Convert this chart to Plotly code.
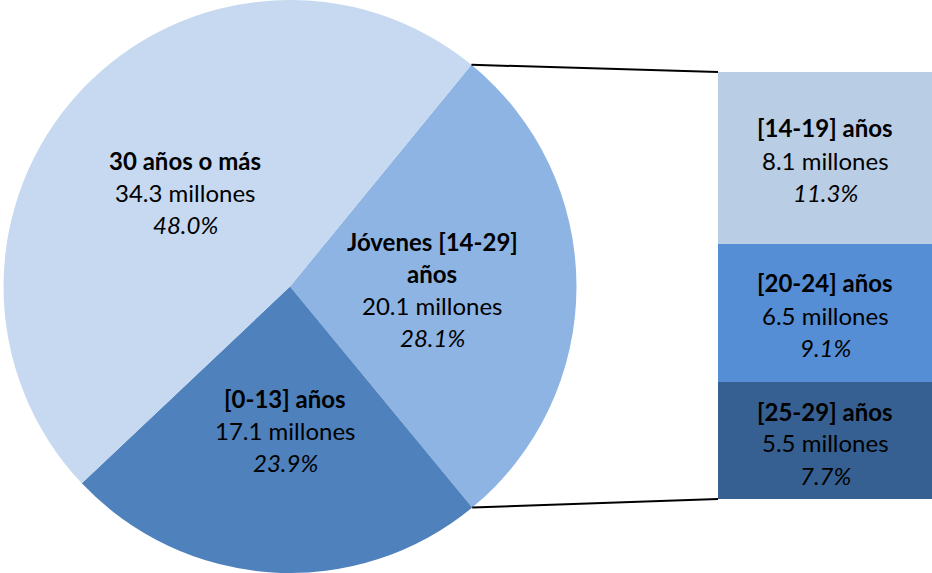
import math
import plotly.graph_objects as go

W, H = 932, 573

# Pie: main age groups (millions of people)
pie_labels = ["Jóvenes [14-29] años", "[0-13] años", "30 años o más"]
pie_values = [20.1, 17.1, 34.3]
pie_pcts = ["28.1%", "23.9%", "48.0%"]
pie_colors = ["#8EB4E3", "#4F81BD", "#C6D9F0"]

# Bar: breakdown of the youth group (top to bottom)
bar_labels = ["[14-19] años", "[20-24] años", "[25-29] años"]
bar_values = [8.1, 6.5, 5.5]
bar_pcts = ["11.3%", "9.1%", "7.7%"]
bar_colors = ["#B9CDE5", "#558ED5", "#366092"]

FONT = "Lato"
FS = 24
LINE = 32

# layout geometry (pixels)
pie_cx, pie_cy, pie_r = 290, 286.5, 286.5
bar_x0, bar_x1 = 718, 932
bar_top, bar_bot = 72, 499

total = sum(pie_values)
youth_frac = pie_values[0] / total
rotation = 39.3  # start angle of the youth slice, clockwise from 12 o'clock

fig = go.Figure()
fig.add_trace(go.Pie(
    labels=pie_labels, values=pie_values, sort=False, direction="clockwise",
    rotation=rotation, marker=dict(colors=pie_colors, line=dict(width=0)),
    textinfo="none", hoverinfo="skip", showlegend=False,
    domain=dict(x=[(pie_cx - pie_r) / W, (pie_cx + pie_r) / W], y=[0, 1]),
))

# stacked bar, drawn bottom-up
for lab, val, col in reversed(list(zip(bar_labels, bar_values, bar_colors))):
    fig.add_trace(go.Bar(
        x=[0], y=[val], width=1, marker=dict(color=col, line=dict(width=0)),
        hoverinfo="skip", showlegend=False, name=lab,
    ))

bar_total = sum(bar_values)
fig.update_layout(
    width=W, height=H, margin=dict(l=0, r=0, t=0, b=0),
    paper_bgcolor="white", plot_bgcolor="white", barmode="stack", bargap=0,
    xaxis=dict(domain=[bar_x0 / W, bar_x1 / W], range=[-0.5, 0.5], visible=False),
    yaxis=dict(domain=[(H - bar_bot) / H, (H - bar_top) / H], range=[0, bar_total], visible=False),
)

# connector lines from the youth slice edges to the bar corners
a0 = math.radians(rotation)
a1 = math.radians(rotation + 360 * youth_frac)
p0 = (pie_cx + pie_r * math.sin(a0), pie_cy - pie_r * math.cos(a0))
p1 = (pie_cx + pie_r * math.sin(a1), pie_cy - pie_r * math.cos(a1))
for (px, py), by in [(p0, bar_top), (p1, bar_bot)]:
    fig.add_shape(type="line", xref="paper", yref="paper",
                  x0=px / W, y0=1 - py / H, x1=bar_x0 / W, y1=1 - by / H,
                  line=dict(color="black", width=2))


def label_block(lines, cx, y_first):
    for i, (txt, style) in enumerate(lines):
        if style == "b":
            t = f"<b>{txt}</b>"
        elif style == "i":
            t = f"<i>{txt}</i>"
        else:
            t = txt
        fig.add_annotation(x=cx / W, y=1 - (y_first + i * LINE) / H, xref="paper", yref="paper",
                           text=t, showarrow=False, xanchor="center", yanchor="middle",
                           font=dict(family=FONT, size=FS, color="black"))


# pie labels
label_block([(pie_labels[2], "b"), (f"{pie_values[2]} millones", ""), (pie_pcts[2], "i")], 185, 160)
label_block([("Jóvenes [14-29]", "b"), ("años", "b"), (f"{pie_values[0]} millones", ""), (pie_pcts[0], "i")], 432, 241)
label_block([(pie_labels[1], "b"), (f"{pie_values[1]} millones", ""), (pie_pcts[1], "i")], 285, 398)

# bar labels
for lab, val, pct, y0 in zip(bar_labels, bar_values, bar_pcts, [128, 283, 411]):
    label_block([(lab, "b"), (f"{val} millones", ""), (pct, "i")], 825, y0)

fig.write_html("out.html")
